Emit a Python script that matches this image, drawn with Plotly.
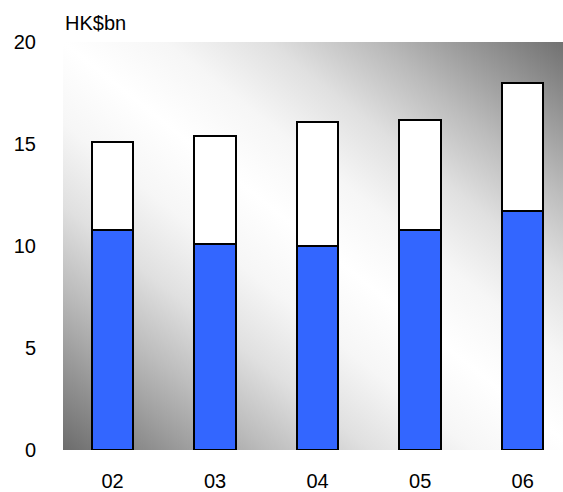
import base64
import plotly.graph_objects as go

# HK$bn by year: lower (blue) segment and upper (white) segment
years = ["02", "03", "04", "05", "06"]
lower_part = [10.8, 10.1, 10.0, 10.8, 11.7]
upper_part = [4.3, 5.3, 6.1, 5.4, 6.3]
y_ticks = [0, 5, 10, 15, 20]

FONT = "Liberation Sans, Arial, sans-serif"

# diagonal grey-white-grey backdrop for the plotting area (soft white band)
stops = [
    (0.00, "#6c6c6c"), (0.10, "#949494"), (0.20, "#bcbcbc"),
    (0.30, "#e0e0e0"), (0.40, "#f6f6f6"), (0.50, "#ffffff"),
    (0.60, "#f6f6f6"), (0.70, "#e0e0e0"), (0.80, "#bcbcbc"),
    (0.90, "#949494"), (1.00, "#6c6c6c"),
]
stop_xml = "".join(
    f'<stop offset="{o}" stop-color="{c}"/>' for o, c in stops
)
svg = (
    '<svg xmlns="http://www.w3.org/2000/svg" width="500" height="400" '
    'viewBox="0 0 500 400" preserveAspectRatio="none">'
    f'<defs><linearGradient id="g" x1="0" y1="1" x2="1" y2="0">{stop_xml}'
    '</linearGradient></defs>'
    '<rect width="500" height="400" fill="url(#g)"/></svg>'
)
bg_src = "data:image/svg+xml;base64," + base64.b64encode(svg.encode()).decode()

fig = go.Figure()
fig.add_trace(go.Bar(
    x=years, y=lower_part, width=0.405,
    marker=dict(color="#3366FF", line=dict(color="#000000", width=2)),
    showlegend=False, hoverinfo="skip",
))
fig.add_trace(go.Bar(
    x=years, y=upper_part, width=0.405,
    marker=dict(color="#FFFFFF", line=dict(color="#000000", width=2)),
    showlegend=False, hoverinfo="skip",
))

fig.add_layout_image(dict(
    source=bg_src, xref="x", yref="y",
    x=-0.4827, y=20, sizex=5.0, sizey=20,
    xanchor="left", yanchor="top", sizing="stretch", layer="below",
))

fig.add_annotation(
    text="HK$bn", xref="paper", yref="paper", x=0, y=1,
    xanchor="left", yanchor="bottom", yshift=6, showarrow=False,
    font=dict(family=FONT, size=20, color="#000000"),
)

fig.update_layout(
    width=563, height=492,
    margin=dict(l=63, r=0, t=42, b=39),
    barmode="stack",
    paper_bgcolor="#FFFFFF", plot_bgcolor="rgba(0,0,0,0)",
    font=dict(family=FONT, size=20, color="#000000"),
    xaxis=dict(
        type="category", range=[-0.4827, 4.393],
        showgrid=False, zeroline=False, showline=False,
        ticks="outside", ticklen=13, tickcolor="rgba(0,0,0,0)",
    ),
    yaxis=dict(
        range=[0, 20], tickvals=y_ticks,
        showgrid=False, zeroline=False, showline=False,
        ticks="outside", ticklen=22, tickcolor="rgba(0,0,0,0)",
    ),
)

fig.write_html("out.html")
